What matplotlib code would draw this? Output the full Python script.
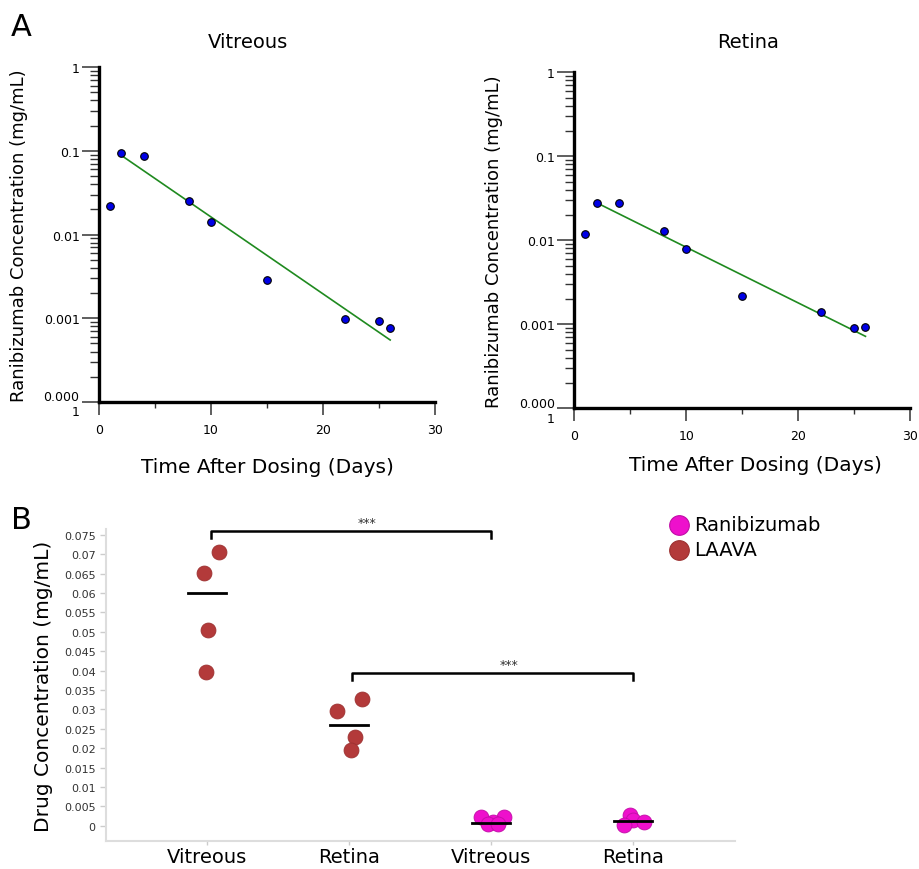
import numpy as np
import matplotlib
matplotlib.use("Agg")
import matplotlib.pyplot as plt
from matplotlib.ticker import LogLocator, FixedLocator, FuncFormatter, NullFormatter

plt.rcParams['font.family'] = ['DejaVu Sans']

# ---- panel A data ----
days = [1, 2, 4, 8, 10, 15, 22, 25, 26]
vitreous_conc = [0.022, 0.095, 0.087, 0.025, 0.014, 0.00285, 0.00098, 0.00092, 0.00077]
retina_conc = [0.012, 0.028, 0.028, 0.013, 0.0078, 0.0022, 0.0014, 0.00091, 0.00092]
fit_days = [2, 26]
vitreous_fit = [0.088, 0.00055]
retina_fit = [0.028, 0.00072]

# ---- panel B data ----
categories = ["Vitreous", "Retina", "Vitreous", "Retina"]
laava_vitreous = [0.0705, 0.0651, 0.0504, 0.0396]
laava_vitreous_jit = [0.085, -0.02, 0.007, -0.007]
laava_retina = [0.0297, 0.0328, 0.0229, 0.0196]
laava_retina_jit = [-0.085, 0.09, 0.045, 0.016]
rani_vitreous = [0.0024, 0.0022, 0.0011, 0.0004, 0.0004]
rani_vitreous_jit = [-0.07, 0.09, 0.014, -0.02, 0.05]
rani_retina = [0.0028, 0.0016, 0.0010, 0.0003]
rani_retina_jit = [-0.02, 0.0, 0.08, -0.06]
group_means = [0.060, 0.026, 0.0008, 0.0013]

fig = plt.figure(figsize=(9.19, 8.70), dpi=100)

log_labels = {1: '1', 0.1: '0.1', 0.01: '0.01', 0.001: '0.001', 0.0001: '0.000\n1'}


def log_panel(ax, y, yfit, title, title_x, title_y, xlab_x, xlab_y):
    ax.set_yscale('log')
    ax.plot(fit_days, yfit, color='#1f8a1f', lw=1.2, zorder=2)
    ax.scatter(days, y, s=30, color='#0000e6', edgecolors='black', linewidths=0.8, zorder=3)
    ax.set_xlim(0, 30)
    ax.set_ylim(0.0001, 1)
    for s in ['top', 'right']:
        ax.spines[s].set_visible(False)
    for s in ['left', 'bottom']:
        ax.spines[s].set_linewidth(2.4)
    ax.yaxis.set_major_locator(FixedLocator([1e-4, 1e-3, 1e-2, 1e-1, 1]))
    ax.yaxis.set_minor_locator(LogLocator(base=10, subs=np.arange(2, 10)))
    ax.yaxis.set_minor_formatter(NullFormatter())
    ax.yaxis.set_major_formatter(FuncFormatter(lambda v, p: log_labels.get(round(v, 6), '')))
    ax.set_xticks([0, 10, 20, 30])
    ax.set_xticks([5, 15, 25], minor=True)
    ax.tick_params(axis='y', which='major', length=12, width=1.1, color='#333333', labelsize=9, pad=2)
    ax.tick_params(axis='y', which='minor', length=6.5, width=1.0, color='#333333')
    ax.tick_params(axis='x', which='major', length=9, width=1.1, color='#333333', labelsize=9, pad=6)
    ax.tick_params(axis='x', which='minor', length=4.5, width=1.0, color='#333333')
    for lbl in ax.get_yticklabels():
        lbl.set_multialignment('right')
    ax.set_title(title, fontsize=14, x=title_x, y=title_y, va='bottom')
    ax.set_ylabel('Ranibizumab Concentration (mg/mL)', fontsize=13)
    ax.yaxis.set_label_coords(-0.211, 0.5)
    ax.set_xlabel('Time After Dosing (Days)', fontsize=14.5)
    ax.xaxis.set_label_coords(xlab_x, xlab_y)
    ax.patch.set_alpha(0)


ax1 = fig.add_axes([0.1077, 0.5368, 0.3656, 0.385])
log_panel(ax1, vitreous_conc, vitreous_fit, 'Vitreous', 0.443, 1.024, 0.5, -0.164)
ax2 = fig.add_axes([0.6249, 0.5295, 0.3656, 0.3862])
log_panel(ax2, retina_conc, retina_fit, 'Retina', 0.518, 1.039, 0.539, -0.14)

fig.text(0.012, 0.985, 'A', fontsize=22, va='top', ha='left')
fig.text(0.012, 0.418, 'B', fontsize=22, va='top', ha='left')

# ---- panel B ----
ax3 = fig.add_axes([0.1153, 0.0322, 0.6845, 0.3586])
laava_face, laava_edge = '#b33a3a', '#9c3030'
rani_face, rani_edge = '#ee10cc', '#c00ca6'
ax3.scatter(np.array(laava_vitreous_jit) + 0, laava_vitreous, s=115, color=laava_face,
            edgecolors=laava_edge, linewidths=0.6, zorder=3)
ax3.scatter(np.array(laava_retina_jit) + 1, laava_retina, s=115, color=laava_face,
            edgecolors=laava_edge, linewidths=0.6, zorder=3)
ax3.scatter(np.array(rani_vitreous_jit) + 2, rani_vitreous, s=115, color=rani_face,
            edgecolors=rani_edge, linewidths=0.6, zorder=3)
ax3.scatter(np.array(rani_retina_jit) + 3, rani_retina, s=115, color=rani_face,
            edgecolors=rani_edge, linewidths=0.6, zorder=3)
for i, m in enumerate(group_means):
    ax3.plot([i - 0.135, i + 0.135], [m, m], color='black', lw=2, zorder=4)

# significance brackets
for x0, x1, yb, sx in [(0.03, 2.0, 0.0760, 1.13), (1.02, 3.0, 0.0394, 2.13)]:
    ax3.plot([x0, x0, x1, x1], [yb - 0.0018, yb, yb, yb - 0.0018], color='black', lw=1.8,
             clip_on=False, zorder=4)
    ax3.text(sx, yb + 0.0004, '***', ha='center', va='bottom', fontsize=9, color='#333333')

ax3.set_xlim(-0.71, 3.72)
ax3.set_ylim(-0.0039, 0.0765)
ax3.set_xticks(range(len(categories)))
ax3.set_xticklabels(categories, fontsize=14)
yt = np.arange(0, 0.0751, 0.005)
ax3.set_yticks(yt)
ax3.set_yticklabels(['%g' % round(v, 3) for v in yt], fontsize=8, color='#333333')
for s in ['top', 'right']:
    ax3.spines[s].set_visible(False)
for s in ['left', 'bottom']:
    ax3.spines[s].set_color('#dddddd')
    ax3.spines[s].set_linewidth(1.5)
ax3.tick_params(axis='both', length=4, width=1, color='#cccccc')
ax3.tick_params(axis='x', length=3, pad=1)
ax3.set_ylabel('Drug Concentration (mg/mL)', fontsize=14.5)
ax3.yaxis.set_label_coords(-0.084, 0.5)

h1 = ax3.scatter([], [], s=200, color=rani_face, edgecolors=rani_edge, linewidths=0.8)
h2 = ax3.scatter([], [], s=200, color=laava_face, edgecolors=laava_edge, linewidths=0.8)
fig.legend([h1, h2], ['Ranibizumab', 'LAAVA'], loc='upper left', bbox_to_anchor=(0.72, 0.416),
           frameon=False, fontsize=14, handletextpad=0.25, labelspacing=0.3,
           handlelength=1.0, borderaxespad=0)

fig.savefig('out.png', dpi=100)
